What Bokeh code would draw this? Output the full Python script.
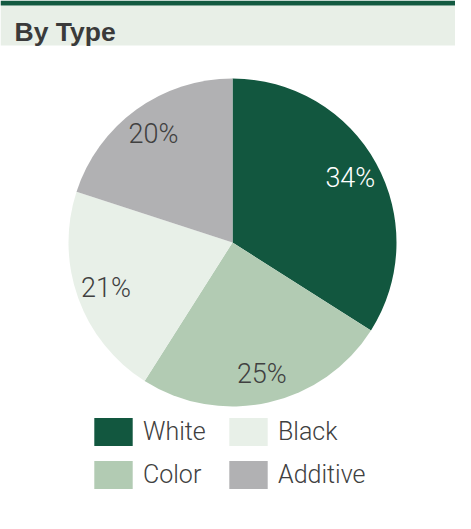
import math
from bokeh.plotting import figure
from bokeh.models import Range1d, Legend, LegendItem, ColumnDataSource
from bokeh.core.properties import value
from bokeh.embed import file_html
from bokeh.resources import INLINE

# ---- data ----
title_text = "By Type"
categories = ["White", "Color", "Black", "Additive"]
shares = [34, 25, 21, 20]
colors = ["#12573f", "#b2cbb3", "#e8f0e8", "#b1b1b3"]
label_colors = ["#ffffff", "#404040", "#404040", "#404040"]

# ---- layout ----
W, H = 455, 513
cx, cy, R = 232, 271, 164
LABEL_R = 0.82 * R

total = float(sum(shares))
starts, ends, lx, ly, labels = [], [], [], [], []
acc = 0.0
for s in shares:
    a0 = math.pi / 2 - 2 * math.pi * acc / total
    acc += s
    a1 = math.pi / 2 - 2 * math.pi * acc / total
    starts.append(a0)
    ends.append(a1)
    mid = (a0 + a1) / 2
    lx.append(cx + LABEL_R * math.cos(mid))
    ly.append(cy + LABEL_R * math.sin(mid))
    labels.append(f"{s}%")

src = ColumnDataSource(dict(cat=categories, val=shares, start=starts, end=ends,
                            color=colors, lx=lx, ly=ly, label=labels,
                            lcolor=label_colors))

p = figure(width=W, height=H, output_backend="svg", toolbar_location=None,
           x_range=Range1d(0, W), y_range=Range1d(0, H),
           x_axis_location=None, y_axis_location=None, min_border=0,
           outline_line_color=None)
p.grid.visible = False
p.background_fill_color = "white"
p.border_fill_color = "white"

# header
p.quad(left=0, right=W, bottom=H - 45, top=H - 5, fill_color="#e8efe7", line_color=None)
p.quad(left=0, right=W, bottom=H - 5, top=H, fill_color="#135a41", line_color=None)
p.text(x=[14], y=[H - 31.5], text=[title_text], text_font=value("Liberation Sans"),
       text_font_style="bold", text_font_size="26.5px", text_color="#3a3a3a",
       text_baseline="alphabetic", text_align="left")

# pie
wr = p.wedge(x=cx, y=cy, radius=R, start_angle="start", end_angle="end",
             direction="clock", fill_color="color", line_color=None, source=src)
p.text(x="lx", y="ly", text="label", text_color="lcolor", source=src,
       text_font=value("Roboto Light"), text_font_size="27px",
       text_align="center", text_baseline="middle")

# legend: two columns (column-major order as in the reference)
per_col = 2
for col in range(2):
    idxs = list(range(col * per_col, (col + 1) * per_col))
    items = [LegendItem(label=categories[i], renderers=[wr], index=i) for i in idxs]
    lg = Legend(items=items, location=(89 + 135 * col, 21), padding=0, margin=0,
                border_line_color=None, background_fill_alpha=0,
                glyph_width=48, glyph_height=35, label_standoff=6, spacing=8,
                label_text_font="Roboto Light", label_text_font_size="25px",
                label_text_color="#404040", label_height=35,
                label_text_baseline="middle")
    p.add_layout(lg, "center")

open("out.html", "w").write(file_html(p, INLINE))
